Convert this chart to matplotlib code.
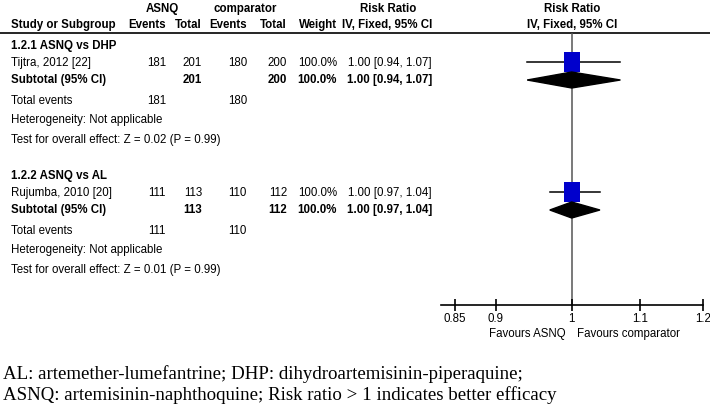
import matplotlib
matplotlib.use("Agg")
import matplotlib.pyplot as plt
from matplotlib.patches import Polygon
from matplotlib.path import Path

# data
groups = ["1.2.1 ASNQ vs DHP", "1.2.2 ASNQ vs AL"]
studies = ["Tijtra, 2012 [22]", "Rujumba, 2010 [20]"]
asnq_events = [181, 111]
asnq_total = [201, 113]
comp_events = [180, 110]
comp_total = [200, 112]
weight = [100.0, 100.0]
rr = [1.00, 1.00]
rr_lo = [0.94, 0.97]
rr_hi = [1.07, 1.04]
z_val = [0.02, 0.01]
p_val = [0.99, 0.99]
ticks = [0.85, 0.9, 1, 1.1, 1.2]
tick_labels = ["0.85", "0.9", "1", "1.1", "1.2"]

W, H = 710, 410
sans = ["Liberation Sans", "DejaVu Sans"]
fs = 8.3

fig = plt.figure(figsize=(W / 100, H / 100), dpi=100)

# text layer in pixel coordinates
ax = fig.add_axes([0, 0, 1, 1])
ax.set_xlim(0, W)
ax.set_ylim(H, 0)
ax.axis("off")

def t(x, y, s, ha="left", bold=False, size=fs, fam=sans):
    ax.text(x, y, s, ha=ha, va="center", fontsize=size, family=fam,
            fontweight="bold" if bold else "normal")

# header
t(162, 9, "ASNQ", ha="center", bold=True)
t(245, 9, "comparator", ha="center", bold=True)
t(388, 9, "Risk Ratio", ha="center", bold=True)
t(572, 9, "Risk Ratio", ha="center", bold=True)
t(11, 25, "Study or Subgroup", bold=True)
t(166, 25, "Events", ha="right", bold=True)
t(202, 25, "Total", ha="right", bold=True)
t(247, 25, "Events", ha="right", bold=True)
t(287, 25, "Total", ha="right", bold=True)
t(337, 25, "Weight", ha="right", bold=True)
t(387, 25, "IV, Fixed, 95% CI", ha="center", bold=True)
t(572, 25, "IV, Fixed, 95% CI", ha="center", bold=True)
ax.plot([0, W], [34, 34], color="black", lw=1.2)

group_y = [46, 176]
row_y = []
for i, g in enumerate(groups):
    y0 = group_y[i]
    ys, yt = y0 + 17, y0 + 34
    row_y.append((ys, yt))
    ci = f"{rr[i]:.2f} [{rr_lo[i]:.2f}, {rr_hi[i]:.2f}]"
    t(11, y0, g, bold=True)
    t(11, ys, studies[i])
    t(166, ys, str(asnq_events[i]), ha="right")
    t(202, ys, str(asnq_total[i]), ha="right")
    t(247, ys, str(comp_events[i]), ha="right")
    t(287, ys, str(comp_total[i]), ha="right")
    t(337, ys, f"{weight[i]:.1f}%", ha="right")
    t(432, ys, ci, ha="right")
    t(11, yt, "Subtotal (95% CI)", bold=True)
    t(202, yt, str(asnq_total[i]), ha="right", bold=True)
    t(287, yt, str(comp_total[i]), ha="right", bold=True)
    t(337, yt, f"{weight[i]:.1f}%", ha="right", bold=True)
    t(432, yt, ci, ha="right", bold=True)
    t(11, y0 + 55, "Total events")
    t(166, y0 + 55, str(asnq_events[i]), ha="right")
    t(247, y0 + 55, str(comp_events[i]), ha="right")
    t(11, y0 + 74, "Heterogeneity: Not applicable")
    t(11, y0 + 94, f"Test for overall effect: Z = {z_val[i]:.2f} (P = {p_val[i]:.2f})")

t(566, 334, "Favours ASNQ", ha="right")
t(577, 334, "Favours comparator")

serif = ["Liberation Serif", "DejaVu Serif"]
t(3, 374, "AL: artemether-lumefantrine; DHP: dihydroartemisinin-piperaquine;", size=13.6, fam=serif)
t(3, 395, "ASNQ: artemisinin-naphthoquine; Risk ratio > 1 indicates better efficacy", size=13.6, fam=serif)

# forest panel, log scale
x0, x1, ytop, ybot = 441, 703, 34, 306
fa = fig.add_axes([x0 / W, 1 - ybot / H, (x1 - x0) / W, (ybot - ytop) / H])
fa.patch.set_alpha(0)
fa.set_xscale("log")
fa.set_xlim(0.834, ticks[-1])
fa.set_ylim(ybot, ytop)
for s in ["top", "left", "right"]:
    fa.spines[s].set_visible(False)
fa.spines["bottom"].set_linewidth(1.2)
fa.set_yticks([])
fa.xaxis.set_minor_locator(matplotlib.ticker.NullLocator())
fa.set_xticks(ticks)
fa.set_xticklabels(tick_labels, family=sans, fontsize=fs)
fa.tick_params(axis="x", direction="inout", length=8, width=1.2, pad=1)
fa.axvline(1, color="#555555", lw=1.1, zorder=1)

tall = Path([(-0.8, -1), (0.8, -1), (0.8, 1), (-0.8, 1), (-0.8, -1)],
            [Path.MOVETO, Path.LINETO, Path.LINETO, Path.LINETO, Path.CLOSEPOLY])
for i in range(len(studies)):
    ys, yt = row_y[i]
    fa.plot([rr_lo[i], rr_hi[i]], [ys, ys], color="black", lw=1.1, zorder=2)
    fa.plot([rr[i]], [ys], marker=tall, markersize=15 * weight[i] / 100,
            color="#0000cc", zorder=3, markeredgewidth=0)
    yd = yt + 1
    fa.add_patch(Polygon([(rr_lo[i], yd), (rr[i], yd - 8), (rr_hi[i], yd), (rr[i], yd + 8)],
                         closed=True, color="black", zorder=4))

fig.savefig("out.png", dpi=100)
